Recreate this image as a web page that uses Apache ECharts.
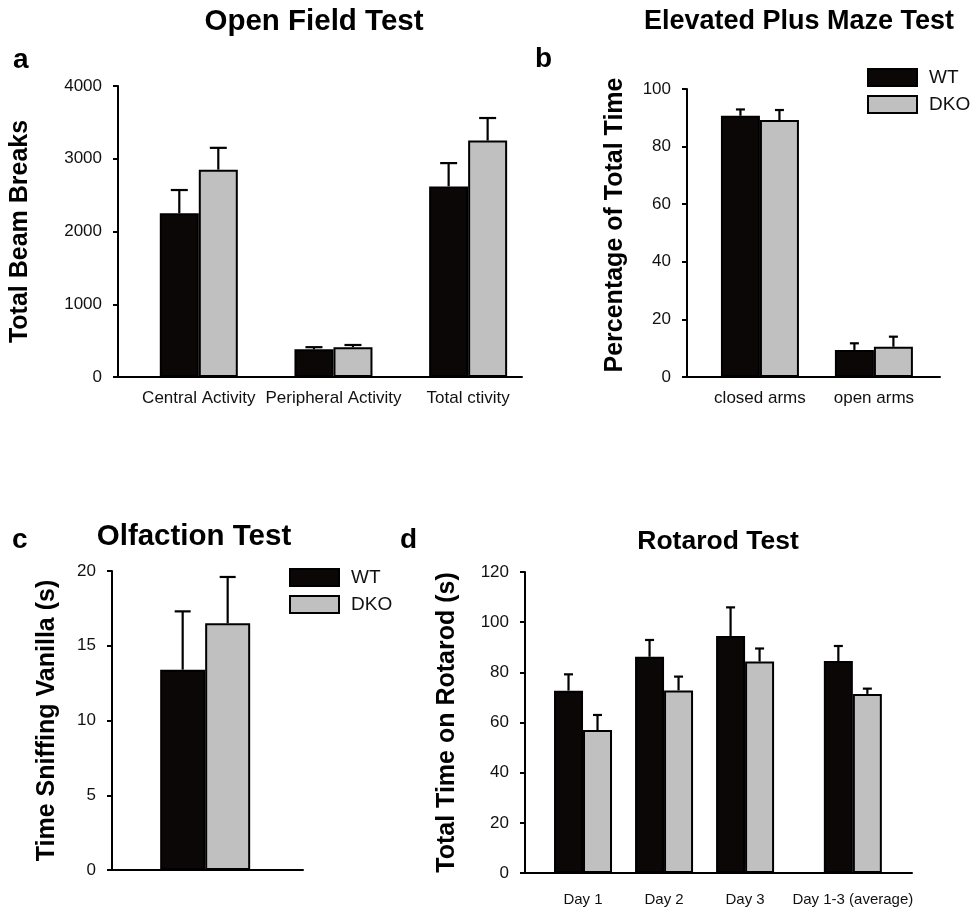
<!DOCTYPE html>
<html>
<head>
<meta charset="utf-8">
<script src="https://cdn.jsdelivr.net/npm/echarts@6/dist/echarts.min.js"></script>
<style>
  html, body { margin: 0; padding: 0; background: #fff; }
  #main { width: 974px; height: 913px; }
</style>
</head>
<body>
<div id="main"></div>
<script>
// a - Open Field Test
const openFieldCats = ['Central Activity', 'Peripheral Activity', 'Total ctivity'];
const openFieldWT = [2250, 380, 2620];
const openFieldWTErr = [320, 30, 320];
const openFieldDKO = [2850, 410, 3250];
const openFieldDKOErr = [300, 30, 310];

// b - Elevated Plus Maze Test
const mazeCats = ['closed arms', 'open arms'];
const mazeWT = [90.7, 9.4];
const mazeWTErr = [2.2, 2.3];
const mazeDKO = [89.2, 10.5];
const mazeDKOErr = [3.5, 3.5];

// c - Olfaction Test
const olfactionCats = [''];
const olfactionWT = [13.4];
const olfactionWTErr = [3.9];
const olfactionDKO = [16.5];
const olfactionDKOErr = [3.1];

// d - Rotarod Test
const rotarodCats = ['Day 1', 'Day 2', 'Day 3', 'Day 1-3 (average)'];
const rotarodWT = [72.7, 86.2, 94.5, 84.5];
const rotarodWTErr = [6.5, 6.7, 11.4, 6.0];
const rotarodDKO = [57.0, 72.8, 84.3, 71.4];
const rotarodDKOErr = [6.0, 5.5, 5.2, 2.1];

const FONT = '"Liberation Sans", Arial, sans-serif';
const WT_COLOR = '#0b0707';
const DKO_COLOR = '#c0c0c0';

// layout of each panel (grid in px, x slots on a value axis)
const panels = [
  { grid: { left: 118, top: 86, width: 404, height: 291 }, xmin: -0.6, xmax: 2.4, slots: [0, 1, 2],
    ymax: 4000, interval: 1000, barW: 39, cap: 17, name: 'Total Beam Breaks', nameGap: 85, namePad: 0, labelSize: 17, labelMargin: 13,
    cats: openFieldCats, wt: openFieldWT, wtErr: openFieldWTErr, dko: openFieldDKO, dkoErr: openFieldDKOErr },
  { grid: { left: 687, top: 89, width: 253, height: 288 }, xmin: -0.64, xmax: 1.58, slots: [0, 1],
    ymax: 100, interval: 20, barW: 39, cap: 9, name: 'Percentage of Total Time', nameGap: 59, namePad: 16, labelSize: 17, labelMargin: 13,
    cats: mazeCats, wt: mazeWT, wtErr: mazeWTErr, dko: mazeDKO, dkoErr: mazeDKOErr },
  { grid: { left: 112, top: 571, width: 191, height: 299 }, xmin: -1, xmax: 1.05, slots: [0],
    ymax: 20, interval: 5, barW: 45, cap: 16, name: 'Time Sniffing Vanilla (s)', nameGap: 52, namePad: 0, labelSize: 15, labelMargin: 14,
    cats: olfactionCats, wt: olfactionWT, wtErr: olfactionWTErr, dko: olfactionDKO, dkoErr: olfactionDKOErr },
  { grid: { left: 525, top: 572, width: 387, height: 301 }, xmin: -0.716, xmax: 4.06, slots: [0, 1, 2, 3.33],
    ymax: 120, interval: 20, barW: 29, cap: 9, name: 'Total Time on Rotarod (s)', nameGap: 65, namePad: 0, labelSize: 15, labelMargin: 19,
    cats: rotarodCats, wt: rotarodWT, wtErr: rotarodWTErr, dko: rotarodDKO, dkoErr: rotarodDKOErr }
];

function errBar(offset, cap) {
  return function (params, api) {
    const base = api.coord([api.value(0), api.value(1)]);
    const tip = api.coord([api.value(0), api.value(1) + api.value(2)]);
    const x = base[0] + offset;
    const st = { stroke: '#000', lineWidth: 2.2 };
    return {
      type: 'group',
      children: [
        { type: 'line', shape: { x1: x, y1: base[1], x2: x, y2: tip[1] }, style: st },
        { type: 'line', shape: { x1: x - cap / 2, y1: tip[1], x2: x + cap / 2, y2: tip[1] }, style: st }
      ]
    };
  };
}

const grids = [], xAxes = [], yAxes = [], series = [];
panels.forEach((p, i) => {
  grids.push(Object.assign({ containLabel: false }, p.grid));
  xAxes.push({
    type: 'value', gridIndex: i, min: p.xmin, max: p.xmax,
    axisLine: { show: true, onZero: false, lineStyle: { color: '#000', width: 2 } },
    axisTick: { show: false },
    splitLine: { show: false },
    axisLabel: {
      show: p.cats[0] !== '',
      customValues: p.slots,
      margin: p.labelMargin,
      fontSize: p.labelSize,
      fontFamily: FONT,
      color: '#111',
      formatter: function (v) {
        const k = p.slots.findIndex(s => Math.abs(s - v) < 1e-6);
        return k >= 0 ? p.cats[k] : '';
      }
    }
  });
  yAxes.push({
    type: 'value', gridIndex: i, min: 0, max: p.ymax, interval: p.interval,
    name: p.name, nameLocation: 'middle', nameGap: p.nameGap,
    nameTextStyle: { fontSize: 25, fontWeight: 'bold', fontFamily: FONT, color: '#000', padding: [0, 0, 0, p.namePad] },
    axisLine: { show: true, onZero: false, lineStyle: { color: '#000', width: 2 } },
    axisTick: { show: true, length: 5, lineStyle: { color: '#000', width: 2 } },
    splitLine: { show: false },
    axisLabel: { fontSize: 17, fontFamily: FONT, color: '#111', margin: 16, formatter: v => String(v) }
  });
  series.push({
    name: 'WT', type: 'bar', xAxisIndex: i, yAxisIndex: i,
    barWidth: p.barW, barGap: '0%',
    itemStyle: { color: WT_COLOR, borderColor: '#000', borderWidth: 2 },
    data: p.slots.map((s, k) => [s, p.wt[k]])
  });
  series.push({
    name: 'DKO', type: 'bar', xAxisIndex: i, yAxisIndex: i,
    barWidth: p.barW, barGap: '0%',
    itemStyle: { color: DKO_COLOR, borderColor: '#000', borderWidth: 2 },
    data: p.slots.map((s, k) => [s, p.dko[k]])
  });
  series.push({
    name: 'WT error', type: 'custom', xAxisIndex: i, yAxisIndex: i, z: 3,
    encode: { x: 0, y: 1 },
    renderItem: errBar(-p.barW / 2, p.cap),
    data: p.slots.map((s, k) => [s, p.wt[k], p.wtErr[k]])
  });
  series.push({
    name: 'DKO error', type: 'custom', xAxisIndex: i, yAxisIndex: i, z: 3,
    encode: { x: 0, y: 1 },
    renderItem: errBar(p.barW / 2, p.cap),
    data: p.slots.map((s, k) => [s, p.dko[k], p.dkoErr[k]])
  });
});

function head(text, left, top, size, align) {
  return {
    text: text, left: left, top: top, textAlign: align || 'left', padding: 0,
    textStyle: { fontSize: size, fontWeight: 'bold', fontFamily: FONT, color: '#000' }
  };
}

function legend(left, top) {
  return {
    data: ['WT', 'DKO'], orient: 'vertical', left: left, top: top,
    icon: 'rect', itemWidth: 49, itemHeight: 17, itemGap: 8, padding: 0,
    itemStyle: { borderColor: '#000', borderWidth: 2 },
    textStyle: { fontSize: 19, fontFamily: FONT, color: '#111', padding: [0, 0, 0, 7] },
    selectedMode: false
  };
}

const chart = echarts.init(document.getElementById('main'), null, { renderer: 'canvas' });
chart.setOption({
  animation: false,
  backgroundColor: '#fff',
  title: [
    head('Open Field Test', 314, 7, 29.5, 'center'),
    head('Elevated Plus Maze Test', 799, 8, 27, 'center'),
    head('Olfaction Test', 194, 522, 29.5, 'center'),
    head('Rotarod Test', 718, 528, 26.5, 'center'),
    head('a', 13, 46, 28),
    head('b', 535, 45, 28),
    head('c', 12, 526, 28),
    head('d', 400, 526, 28)
  ],
  legend: [legend(867, 68), legend(289, 568)],
  grid: grids,
  xAxis: xAxes,
  yAxis: yAxes,
  series: series
});
</script>
</body>
</html>
